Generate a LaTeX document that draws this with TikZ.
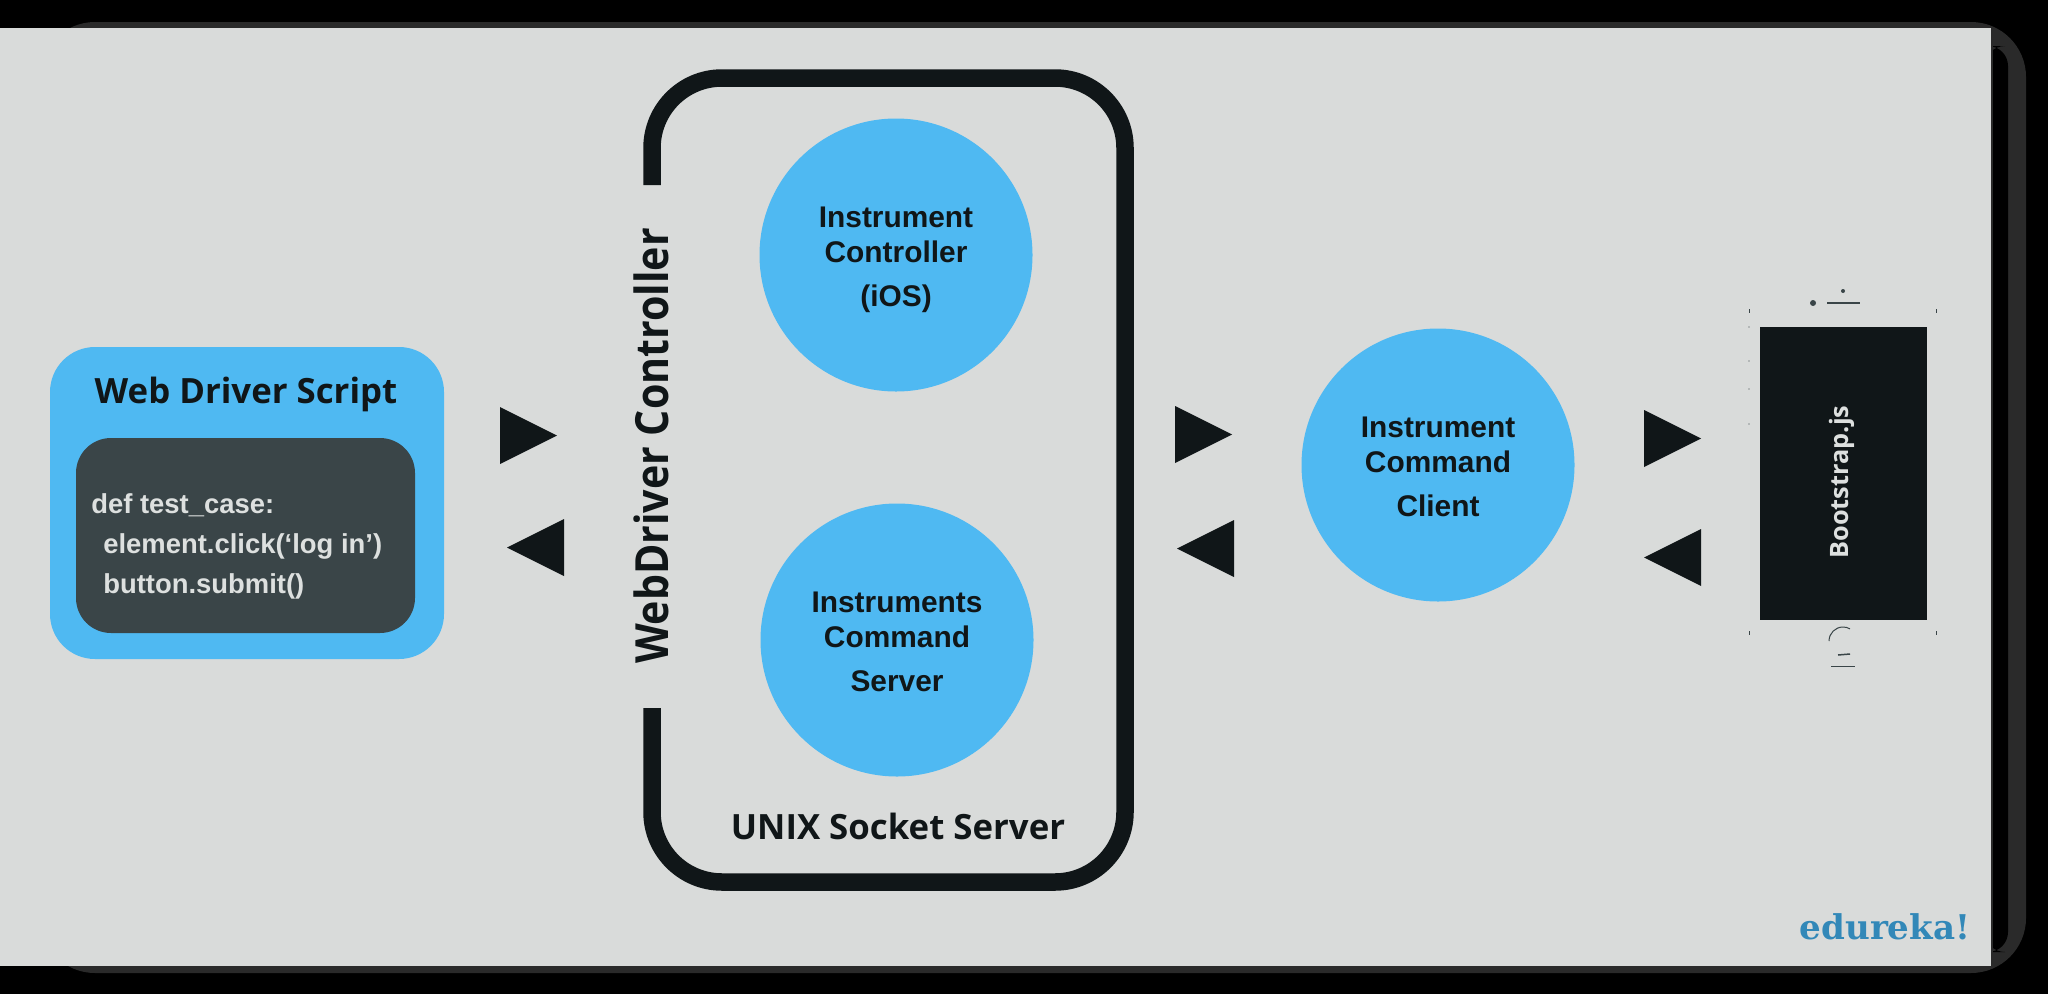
\documentclass[tikz,border=0pt]{standalone}
\usepackage{fontspec}
\setmainfont{Liberation Sans}
\newfontfamily\titlefont{Open Sans}
\newfontfamily\tallfont[FakeStretch=0.9]{Open Sans}
\newfontfamily\brandfont{DejaVu Serif}
\usetikzlibrary{calc}
\definecolor{panelgray}{HTML}{D9DBDA}
\definecolor{skyblue}{HTML}{4FB9F2}
\definecolor{inkdark}{HTML}{101618}
\definecolor{slate}{HTML}{3A4548}
\definecolor{paletext}{HTML}{DDE0DF}
\definecolor{shadowgray}{HTML}{2A2A2A}
\definecolor{brandblue}{HTML}{3288B8}
\tikzset{
    blob/.style={circle, fill=skyblue, minimum size=54.6mm, inner sep=0pt},
    line/.style={anchor=base, inner sep=0pt, text=inkdark, font=\fontsize{17}{20}\selectfont\bfseries},
    code/.style={anchor=base west, inner sep=0pt, text=paletext, font=\fontsize{15.6}{18}\selectfont\bfseries},
    head/.style={anchor=base, inner sep=0pt, text=inkdark, font=\titlefont\fontsize{19.8}{24}\selectfont\bfseries},
    tri/.style={fill=inkdark}
}

\begin{document}
\begin{tikzpicture}[x=0.2mm, y=-0.2mm]
    \path[use as bounding box, fill=black] (0,0) rectangle (2048,994);

    % backdrop
    \fill[shadowgray, rounded corners=11mm] (40,22) rectangle (2026,973);
    \fill[black, rounded corners=4mm] (1985,46) rectangle (2008,952);
    \fill[black] (0,966) rectangle (40,994);
    \fill[shadowgray] (1991,27) rectangle (1993,968);
    \fill[panelgray] (0,27.5) rectangle (1991,966);

    % script box
    \fill[skyblue, rounded corners=9mm] (50,347) rectangle (444,659);
    \fill[slate, rounded corners=7mm] (76,438) rectangle (415,633);
    \node[head] (script) at (246,403) {Web Driver Script};
    \node[code] (codeA) at (91,513) {def test\_case:};
    \node[code] (codeB) at (103,553) {element.click(‘log in’)};
    \node[code] (codeC) at (103,593) {button.submit()};

    % socket server frame
    \draw[inkdark, line width=3.5mm, rounded corners=14mm]
        (652,185) -- (652,78) -- (1125,78) -- (1125,882) -- (652,882) -- (652,708);
    \node[head, rotate=90, font=\tallfont\fontsize{26}{30}\selectfont\bfseries] (webdriver) at (668,446) {WebDriver Controller};
    \node[head] (unix) at (898,839) {UNIX Socket Server};

    \node[blob] (ctrl) at (896,255) {};
    \node[blob] (server) at (897,640) {};
    \node[blob] (client) at (1438,465) {};

    \foreach \n/\a/\b/\c in {ctrl/Instrument/Controller/(iOS), server/Instruments/Command/Server, client/Instrument/Command/Client}
        {
            \node[line] (\n A) at ($(\n) + (0,-28)$) {\a};
            \node[line] (\n B) at ($(\n) + (0,7)$) {\b};
            \node[line] (\n C) at ($(\n) + (0,51)$) {\c};
        }

    % request and reply marks
    \foreach \x/\y in {500/407, 1175/406, 1644/410}
        \fill[tri] (\x,\y) -- ++(57,28.5) -- ++(-57,28.5) -- cycle;
    \foreach \x/\y in {564/519, 1234/520, 1701/529}
        \fill[tri] (\x,\y) -- ++(-57,28.5) -- ++(57,28.5) -- cycle;

    % phone
    \fill[inkdark] (1760,327) rectangle (1927,620);
    \node[anchor=base, inner sep=0pt, rotate=90, text=paletext, font=\titlefont\fontsize{14.4}{18}\selectfont\bfseries] (bootstrap) at (1848,482) {Bootstrap.js};
    \fill[slate] (1813,303) circle (3);
    \fill[slate] (1843,291) circle (2);
    \draw[slate, line width=0.45mm] (1827,303) -- (1860,303);
    \foreach \x in {1749,1936}
        \foreach \y in {311,633}
            \draw[slate, line width=0.2mm] (\x,\y-2) -- (\x,\y+2);
    \foreach \y in {327,361,389,424}
        \fill[slate] (1749,\y) circle (0.7);
    \draw[slate, line width=0.2mm] (1829,641) arc[start angle=180, end angle=300, x radius=14, y radius=14];
    \draw[slate, line width=0.3mm] (1838,655) -- (1850,654);
    \draw[slate, line width=0.15mm] (1831,666) -- (1855,666);

    \node[anchor=base, inner sep=0pt, text=brandblue, font=\brandfont\fontsize{19.4}{24}\selectfont\bfseries] (brand) at (1885,939) {edureka!};
\end{tikzpicture}
\end{document}
